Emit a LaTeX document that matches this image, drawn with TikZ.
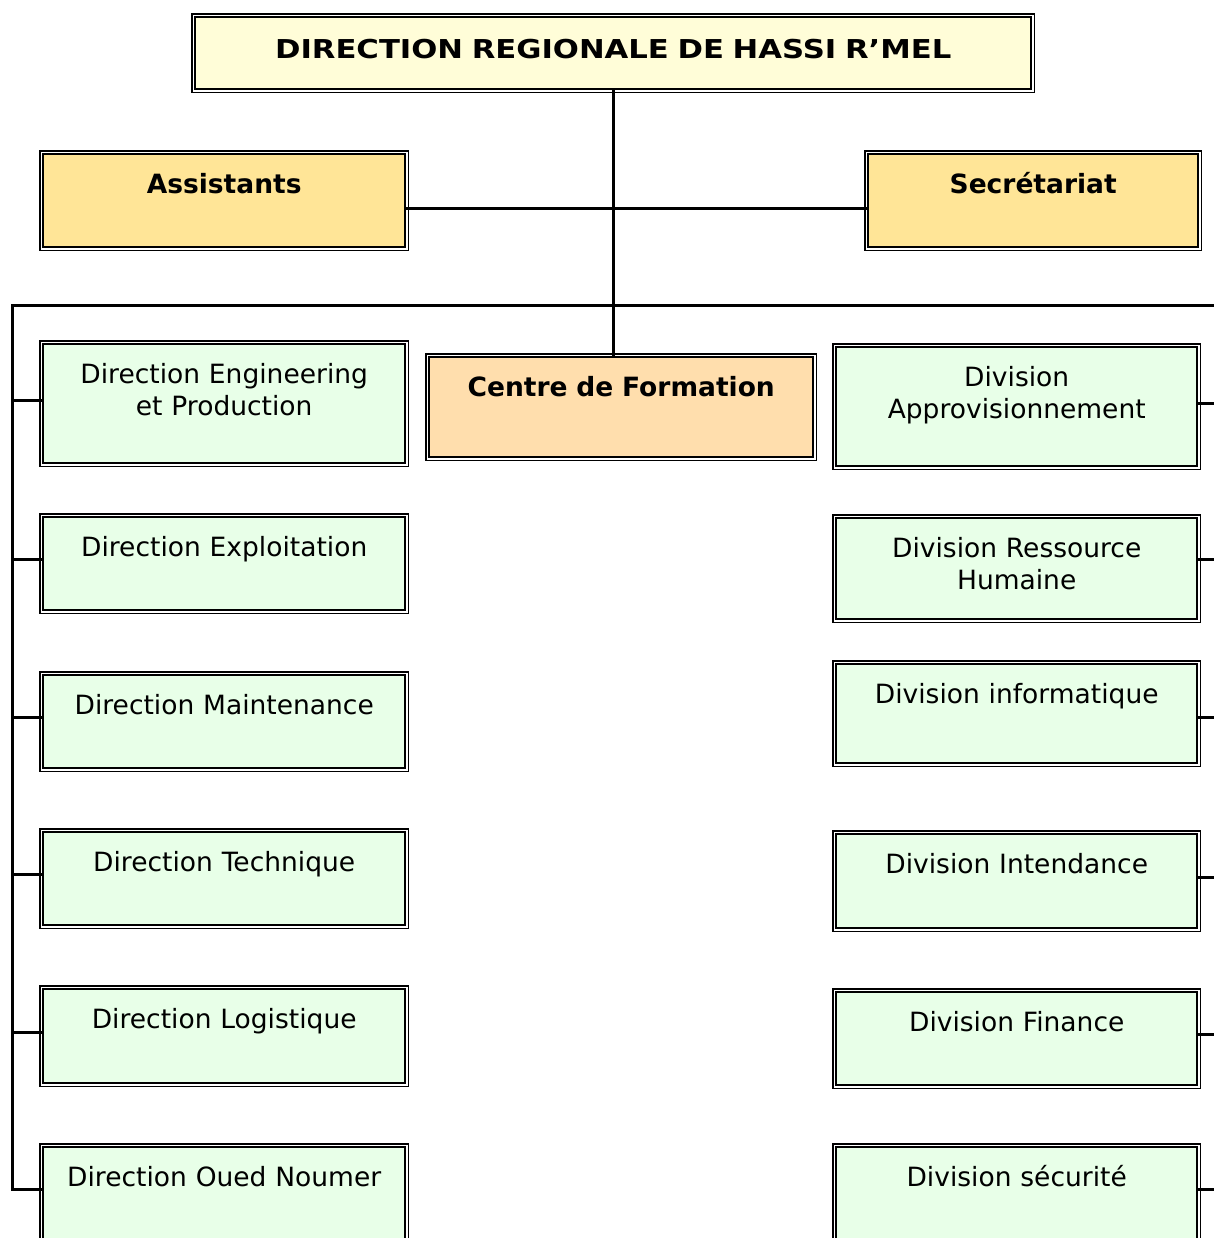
\documentclass[tikz,border=0pt]{standalone}
\usepackage{fontspec}
\setmainfont{DejaVu Sans}
\newfontfamily\headfont[FakeStretch=1.18]{DejaVu Sans}
\definecolor{headfill}{HTML}{FFFDD8}
\definecolor{staffill}{HTML}{FFE597}
\definecolor{formfill}{HTML}{FFDEAD}
\definecolor{unitfill}{HTML}{E8FFE8}
\begin{document}
\begin{tikzpicture}[x=1pt,y=-1pt,box/.style={draw,line width=2.4pt,inner sep=0pt,align=center,text height=39pt,anchor=north west,font=\fontsize{26.5}{32}\selectfont,preaction={draw,line width=7.5pt},preaction={draw=white,line width=5pt}},link/.style={line width=3pt}]
\useasboundingbox (0,0) rectangle (1214,1238);
\node[box,fill=headfill,text width=836pt,text height=41pt,text depth=31pt,font=\fontsize{26}{32}\headfont\bfseries] (dr) at (194,16) {DIRECTION REGIONALE DE HASSI R’MEL};
\node[box,fill=staffill,text width=362pt,text depth=54pt,font=\fontsize{26.5}{32}\selectfont\bfseries] (as) at (42,153) {Assistants};
\node[box,fill=staffill,text width=330pt,text depth=54pt,font=\fontsize{26.5}{32}\selectfont\bfseries] (se) at (867,153) {Secrétariat};
\node[box,fill=formfill,text width=384pt,text depth=61pt,font=\fontsize{26.5}{32}\selectfont\bfseries] (cf) at (428,356) {Centre de Formation};
% colonne gauche
\node[box,fill=unitfill,text width=362pt,text depth=80pt] (l1) at (42,343) {Direction Engineering\\et Production};
\node[box,fill=unitfill,text width=362pt,text depth=54pt] (l2) at (42,516) {Direction Exploitation};
\node[box,fill=unitfill,text width=362pt,text depth=54pt] (l3) at (42,674) {Direction Maintenance};
\node[box,fill=unitfill,text width=362pt,text depth=54pt] (l4) at (42,831) {Direction Technique};
\node[box,fill=unitfill,text width=362pt,text depth=55pt] (l5) at (42,988) {Direction Logistique};
\node[box,fill=unitfill,text width=362pt,text depth=54pt] (l6) at (42,1146) {Direction Oued Noumer};
% colonne droite
\node[box,fill=unitfill,text width=361pt,text depth=80pt] (r1) at (835,346) {Division\\Approvisionnement};
\node[box,fill=unitfill,text width=361pt,text depth=62pt] (r2) at (835,517) {Division Ressource\\Humaine};
\node[box,fill=unitfill,text width=361pt,text depth=60pt] (r3) at (835,663) {Division informatique};
\node[box,fill=unitfill,text width=361pt,text depth=55pt] (r4) at (835,833) {Division Intendance};
\node[box,fill=unitfill,text width=361pt,text depth=54pt] (r5) at (835,991) {Division Finance};
\node[box,fill=unitfill,text width=361pt,text depth=54pt] (r6) at (835,1146) {Division sécurité};
\coordinate (lb) at (12,305);\coordinate (rb) at (1214,305);
\draw[link] (dr.south)--(dr.south |- cf.north);
\draw[link] ([yshift=-7.5pt]as.east)--([yshift=-7.5pt]se.west);
\draw[link] ([yshift=4pt]l6.west) -| (lb)--(rb);
\draw[link] ([yshift=3pt]l1.west)--([yshift=3pt]l1.west -| lb);\draw[link] ([yshift=4pt]l2.west)--([yshift=4pt]l2.west -| lb);
\draw[link] ([yshift=4pt]l3.west)--([yshift=4pt]l3.west -| lb);\draw[link] ([yshift=4pt]l4.west)--([yshift=4pt]l4.west -| lb);
\draw[link] ([yshift=4pt]l5.west)--([yshift=4pt]l5.west -| lb);
\draw[link] ([yshift=3pt]r1.east)--([yshift=3pt]r1.east -| rb);\draw[link] ([yshift=9pt]r2.east)--([yshift=9pt]r2.east -| rb);
\draw[link] ([yshift=-4pt]r3.east)--([yshift=-4pt]r3.east -| rb);\draw[link] ([yshift=4pt]r4.east)--([yshift=4pt]r4.east -| rb);
\draw[link] ([yshift=4pt]r5.east)--([yshift=4pt]r5.east -| rb);\draw[link] ([yshift=4pt]r6.east)--([yshift=4pt]r6.east -| rb);
\end{tikzpicture}
\end{document}
